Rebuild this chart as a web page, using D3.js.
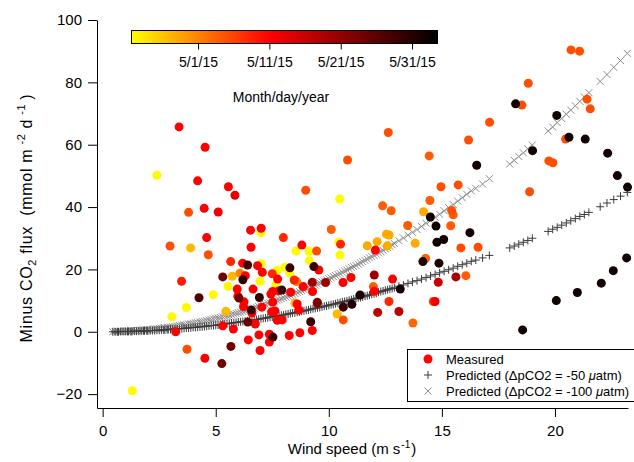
<!DOCTYPE html>
<html>
<head>
<meta charset="utf-8">
<script src="https://cdn.jsdelivr.net/npm/d3@7"></script>
<style>
  body { margin: 0; background: #fff; }
  svg text { font-family: "Liberation Sans", Arial, sans-serif; fill: #000; }
</style>
</head>
<body>
<div id="chart-area"></div>
<script>
// measured flux, one entry per sample
const windSpeed = [
  3.38, 4.53, 2.40, 4.20, 5.56, 5.85, 3.80, 4.49, 5.11, 4.60,
  2.98, 3.89, 4.67, 6.54, 7.01, 7.00, 7.99, 6.56, 3.49, 5.66,
  6.41, 6.19, 6.85, 7.01, 7.06, 7.50, 7.72, 8.28, 8.55, 8.81,
  9.12, 9.46, 9.14, 9.34, 9.56, 8.06, 8.28, 8.47, 8.58, 8.87,
  9.27, 9.28, 9.86, 9.49, 9.20, 9.27, 5.31, 5.73, 6.07, 6.20,
  6.31, 5.54, 5.95, 6.65, 6.96, 7.65, 7.92, 8.31, 4.89, 4.26,
  3.70, 3.06, 5.45, 5.98, 6.03, 6.25, 6.93, 7.44, 7.52, 6.57,
  7.04, 7.47, 7.62, 7.94, 7.72, 6.42, 5.31, 5.78, 3.23, 6.91,
  7.37, 7.53, 6.44, 1.31, 3.73, 4.52, 5.27, 5.67, 6.96, 7.37,
  8.25, 8.72, 6.75, 6.60, 8.60, 8.68, 8.50, 9.49, 10.37, 10.64,
  10.64, 11.02, 12.16, 12.66, 13.10, 7.74, 7.78, 7.52, 6.23, 12.63,
  10.83, 8.98, 10.48, 16.18, 14.44, 16.54, 14.96, 15.72, 14.47, 12.38,
  12.76, 14.19, 15.43, 15.50, 14.49, 13.49, 14.74, 15.39, 10.11, 12.55,
  12.67, 14.78, 15.08, 16.24, 13.82, 11.70, 12.14, 12.59, 15.84, 16.60,
  10.49, 10.45, 10.52, 10.63, 10.98, 12.01, 12.06, 12.82, 11.97, 12.01,
  11.38, 13.16, 14.16, 14.87, 14.28, 14.84, 15.62, 16.06, 14.62, 14.70,
  13.72, 20.71, 21.09, 18.82, 18.26, 18.54, 21.42, 21.56, 17.11, 20.08,
  20.47, 20.62, 21.34, 19.01, 19.73, 19.91, 22.33, 22.76, 23.21, 18.88,
  18.57, 20.06, 20.99, 22.05, 22.58, 23.17
];
const co2Flux = [
  65.7, 59.2, 50.2, 48.4, 46.5, 43.8, 38.3, 39.6, 38.4, 30.2,
  27.5, 26.9, 24.7, 32.6, 33.2, 31.7, 30.2, 27.1, 16.2, 22.5,
  21.4, 22.0, 21.2, 21.8, 19.1, 18.6, 19.7, 20.5, 25.9, 27.8,
  25.8, 25.9, 22.8, 20.9, 19.8, 20.7, 18.8, 16.6, 16.1, 14.5,
  15.9, 12.9, 15.8, 9.5, 3.2, 0.4, 17.6, 17.8, 18.8, 16.7,
  18.0, 14.6, 13.7, 13.7, 16.2, 15.1, 13.4, 12.7, 11.9, 10.9,
  7.8, 4.8, 6.6, 11.4, 10.8, 9.6, 11.0, 12.1, 9.5, 7.0,
  7.9, 6.4, 6.7, 3.8, 3.7, 3.1, 1.9, 0.9, 0.0, -1.0,
  -0.8, -1.7, -2.6, -18.9, -5.6, -8.5, -10.2, -4.7, -6.0, -3.3,
  -1.2, -0.3, 2.5, 6.0, 8.9, 7.0, 9.2, 9.2, 5.7, 3.8,
  7.9, 8.8, 6.2, 9.7, 6.5, 16.9, 13.1, 12.9, 8.1, 63.9,
  55.1, 45.4, 42.6, 61.5, 56.4, 53.4, 46.5, 47.1, 42.1, 40.4,
  38.8, 38.5, 38.9, 37.5, 36.8, 34.1, 33.9, 34.0, 32.8, 31.3,
  31.0, 28.7, 29.6, 31.8, 28.4, 27.6, 28.9, 27.6, 26.9, 27.1,
  24.6, 28.8, 28.1, 15.8, 17.4, 18.2, 26.2, 16.9, 14.5, 13.0,
  11.8, 13.7, 22.5, 22.0, 23.5, 15.9, 17.6, 18.0, 9.7, 9.7,
  2.8, 90.4, 90.0, 79.7, 73.1, 72.7, 74.6, 71.5, 67.2, 69.4,
  61.8, 62.4, 61.8, 58.1, 54.8, 54.2, 57.3, 50.1, 46.4, 44.9,
  0.6, 10.0, 12.6, 15.6, 19.6, 23.7
];
const sampleDate = [
  "5/11/15", "5/11/15", "4/22/15", "5/11/15", "5/11/15", "5/13/15", "5/5/15", "5/11/15", "5/12/15", "5/11/15",
  "5/5/15", "4/27/15", "5/5/15", "5/11/15", "5/11/15", "4/22/15", "5/8/15", "5/11/15", "5/9/15", "5/8/15",
  "5/28/15", "5/11/15", "5/11/15", "4/22/15", "5/11/15", "5/8/15", "4/22/15", "5/29/15", "4/22/15", "5/11/15",
  "4/22/15", "5/5/15", "4/22/15", "5/29/15", "5/11/15", "4/22/15", "4/22/15", "5/8/15", "5/2/15", "5/11/15",
  "5/20/15", "5/11/15", "5/20/15", "5/23/15", "5/29/15", "5/11/15", "5/24/15", "4/27/15", "5/1/15", "5/30/15",
  "5/11/15", "4/22/15", "5/11/15", "5/11/15", "4/22/15", "4/22/15", "5/29/15", "5/11/15", "4/22/15", "5/27/15",
  "4/22/15", "4/22/15", "4/27/15", "5/11/15", "5/24/15", "5/11/15", "5/29/15", "5/11/15", "5/11/15", "5/29/15",
  "5/11/15", "5/11/15", "5/11/15", "5/11/15", "5/11/15", "5/25/15", "5/11/15", "5/11/15", "5/11/15", "5/11/15",
  "5/11/15", "5/29/15", "5/11/15", "4/22/15", "5/5/15", "5/11/15", "5/24/15", "5/24/15", "5/11/15", "5/11/15",
  "5/11/15", "5/11/15", "5/11/15", "5/11/15", "5/11/15", "5/11/15", "4/27/15", "5/20/15", "4/27/15", "5/5/15",
  "5/29/15", "6/1/15", "5/17/15", "5/8/15", "5/17/15", "5/11/15", "5/11/15", "5/11/15", "5/11/15", "5/5/15",
  "5/5/15", "5/5/15", "4/22/15", "5/5/15", "5/4/15", "6/2/15", "5/5/15", "5/5/15", "5/4/15", "5/4/15",
  "5/4/15", "4/28/15", "5/5/15", "5/4/15", "6/2/15", "5/4/15", "6/2/15", "5/4/15", "5/4/15", "4/28/15",
  "4/28/15", "6/2/15", "6/2/15", "6/2/15", "4/28/15", "4/28/15", "4/28/15", "4/28/15", "5/5/15", "5/5/15",
  "4/22/15", "4/22/15", "5/8/15", "5/11/15", "5/11/15", "5/20/15", "5/11/15", "5/11/15", "5/4/15", "5/11/15",
  "6/1/15", "6/1/15", "6/1/15", "6/1/15", "5/4/15", "5/16/15", "5/19/15", "5/4/15", "5/6/15", "5/12/15",
  "5/3/15", "5/5/15", "5/5/15", "5/5/15", "6/2/15", "5/5/15", "5/5/15", "5/5/15", "5/5/15", "6/2/15",
  "5/5/15", "6/2/15", "6/2/15", "6/2/15", "5/5/15", "5/5/15", "6/2/15", "6/2/15", "6/2/15", "5/5/15",
  "6/2/15", "6/2/15", "6/2/15", "6/2/15", "6/2/15", "6/2/15"
];

// predicted flux at the wind speeds of the record
const predWind = [
  0.45, 0.65, 0.8, 1.0, 1.15, 1.3, 1.5, 1.7, 1.85, 2.0,
  2.2, 2.4, 2.6, 2.75, 2.9,
  3.1, 3.3, 3.5, 3.7, 3.9, 4.1, 4.3, 4.5, 4.7, 4.9,
  5.1, 5.3, 5.5, 5.7, 5.9, 6.1, 6.3, 6.5, 6.7, 6.9,
  7.1, 7.3, 7.5, 7.7, 7.9, 8.1, 8.3, 8.5, 8.7, 8.9,
  9.1, 9.3, 9.5, 9.7, 9.9, 10.1, 10.3, 10.5, 10.7, 10.9,
  11.1, 11.3, 11.5, 11.7, 11.9, 12.1, 12.3, 12.5, 12.7, 12.9,
  13.1, 13.3, 13.5, 13.7, 13.9, 14.1, 14.3, 14.5, 14.7, 14.9,
  15.1, 15.3, 15.5, 15.7, 15.9, 16.1, 16.3, 16.5, 16.8, 17.1,
  18.0, 18.2, 18.4, 18.6, 18.8, 19.0,
  19.7, 19.9, 20.1, 20.3, 20.5, 20.7, 20.9, 21.1, 21.3, 21.5,
  22.0, 22.3, 22.6, 22.9, 23.2,
  // second half of the record, low and moderate winds
  0.55, 0.7, 0.9, 1.1, 1.25, 1.4, 1.6, 1.8, 1.95, 2.1,
  2.3, 2.5, 2.7, 2.85, 3.0,
  3.2, 3.4, 3.6, 3.8, 4.0, 4.2, 4.4, 4.6, 4.8, 5.0,
  5.2, 5.4, 5.6, 5.8, 6.0, 6.2, 6.4, 6.6, 6.8, 7.0,
  7.2, 7.4, 7.6, 7.8, 8.0, 8.2, 8.4, 8.6, 8.8, 9.0,
  9.2, 9.4, 9.6, 9.8, 10.0, 10.2, 10.4, 10.6, 10.8, 11.0,
  11.2, 11.4, 11.6, 11.8, 12.0, 12.2, 12.4, 12.6, 12.8
];
const predMinus50 = [
  0.0, 0.0, 0.1, 0.1, 0.1, 0.1, 0.2, 0.2, 0.3, 0.3,
  0.4, 0.5, 0.6, 0.6, 0.7,
  0.8, 0.9, 1.0, 1.2, 1.3, 1.4, 1.6, 1.7, 1.9, 2.0,
  2.2, 2.4, 2.6, 2.8, 3.0, 3.2, 3.4, 3.6, 3.8, 4.0,
  4.3, 4.5, 4.8, 5.0, 5.3, 5.6, 5.9, 6.1, 6.4, 6.7,
  7.0, 7.4, 7.7, 8.0, 8.3, 8.7, 9.0, 9.4, 9.7, 10.1,
  10.5, 10.9, 11.2, 11.6, 12.0, 12.4, 12.9, 13.3, 13.7, 14.1,
  14.6, 15.0, 15.5, 16.0, 16.4, 16.9, 17.4, 17.9, 18.4, 18.9,
  19.4, 19.9, 20.4, 21.0, 21.5, 22.0, 22.6, 23.0, 23.7, 24.5,
  26.9, 27.5, 28.1, 28.7, 29.3, 30.0,
  32.2, 32.9, 33.5, 34.2, 34.9, 35.6, 36.3, 37.0, 37.6, 38.3,
  40.1, 41.3, 42.4, 43.5, 44.7,
  0.0, 0.0, 0.1, 0.1, 0.1, 0.2, 0.2, 0.3, 0.3, 0.4,
  0.4, 0.5, 0.6, 0.7, 0.8,
  0.9, 1.0, 1.1, 1.2, 1.4, 1.5, 1.6, 1.8, 2.0, 2.1,
  2.3, 2.5, 2.7, 2.9, 3.1, 3.3, 3.5, 3.7, 3.9, 4.2,
  4.4, 4.7, 4.9, 5.2, 5.4, 5.7, 6.0, 6.3, 6.6, 6.9,
  7.2, 7.5, 7.8, 8.2, 8.5, 8.8, 9.2, 9.6, 9.9, 10.3,
  10.7, 11.0, 11.4, 11.8, 12.2, 12.7, 13.1, 13.5, 13.9
];
const predMinus100 = [
  0.0, 0.1, 0.1, 0.2, 0.2, 0.3, 0.4, 0.5, 0.6, 0.7,
  0.8, 1.0, 1.1, 1.3, 1.4,
  1.6, 1.9, 2.1, 2.3, 2.6, 2.9, 3.1, 3.4, 3.8, 4.1,
  4.4, 4.8, 5.1, 5.5, 5.9, 6.3, 6.7, 7.2, 7.6, 8.1,
  8.6, 9.1, 9.6, 10.1, 10.6, 11.2, 11.7, 12.3, 12.9, 13.5,
  14.1, 14.7, 15.3, 16.0, 16.7, 17.3, 18.0, 18.7, 19.5, 20.2,
  20.9, 21.7, 22.5, 23.3, 24.1, 24.9, 25.7, 26.6, 27.4, 28.3,
  29.2, 30.1, 31.0, 31.9, 32.8, 33.8, 34.8, 35.7, 36.7, 37.7,
  38.8, 39.8, 40.8, 41.9, 43.0, 44.1, 45.2, 46.0, 47.4, 49.1,
  53.8, 55.0, 56.2, 57.4, 58.7, 59.9,
  64.4, 65.7, 67.1, 68.4, 69.8, 71.1, 72.5, 73.9, 75.3, 76.7,
  80.3, 82.5, 84.8, 87.0, 89.3,
  0.1, 0.1, 0.1, 0.2, 0.3, 0.3, 0.4, 0.6, 0.6, 0.7,
  0.9, 1.1, 1.2, 1.4, 1.5,
  1.7, 2.0, 2.2, 2.5, 2.7, 3.0, 3.3, 3.6, 3.9, 4.3,
  4.6, 5.0, 5.3, 5.7, 6.1, 6.5, 7.0, 7.4, 7.9, 8.3,
  8.8, 9.3, 9.8, 10.3, 10.9, 11.4, 12.0, 12.6, 13.2, 13.8,
  14.4, 15.0, 15.7, 16.3, 17.0, 17.7, 18.4, 19.1, 19.8, 20.6,
  21.3, 22.1, 22.9, 23.7, 24.5, 25.3, 26.1, 27.0, 27.9
];

const xTicks = [0, 5, 10, 15, 20];
const yTicks = [-20, 0, 20, 40, 60, 80, 100];
const dateTicks = ["5/1/15", "5/11/15", "5/21/15", "5/31/15"];

const chart = {
  totalWidth: 634,
  totalHeight: 462,
  left: 97, right: 628, top: 20, bottom: 408,

  parseDate: d3.timeParse("%m/%d/%y"),
  dateStart: new Date(2015, 3, 21, 14, 24),
  dateEnd: new Date(2015, 5, 3, 12),

  svg: undefined,
  x: undefined,
  y: undefined,
  cbScale: undefined,
  hot: d3.scaleLinear().domain([0, 0.45, 1]).range(["#ffff00", "#ff0000", "#000000"]),

  colorFor: function(date) {
    const t = (date - this.dateStart) / (this.dateEnd - this.dateStart);
    return this.hot(Math.max(0, Math.min(1, t)));
  },

  setup: function() {
    this.svg = d3.select("#chart-area").append("svg")
      .attr("width", this.totalWidth)
      .attr("height", this.totalHeight);

    this.x = d3.scaleLinear().domain([-0.25, 23.23]).range([this.left, this.right]);
    this.y = d3.scaleLinear().domain([-24.45, 100]).range([this.bottom, this.top]);
  },

  addAxes: function() {
    const xAxis = this.svg.append("g")
      .attr("transform", "translate(0," + this.bottom + ")")
      .call(d3.axisBottom(this.x).tickValues(xTicks).tickSize(9).tickSizeOuter(0).tickPadding(8));
    xAxis.selectAll("text").attr("font-size", "15px");

    const yAxis = this.svg.append("g")
      .attr("transform", "translate(" + this.left + ",0)")
      .call(d3.axisLeft(this.y).tickValues(yTicks).tickSize(9).tickSizeOuter(0).tickPadding(6));
    yAxis.selectAll("text").attr("font-size", "15px");

    this.svg.selectAll(".domain, .tick line").attr("stroke", "#000");

    // X-label
    const xl = this.svg.append("text")
      .attr("x", 352).attr("y", 454)
      .attr("font-size", "15px")
      .attr("text-anchor", "middle");
    xl.append("tspan").text("Wind speed (m s");
    xl.append("tspan").attr("dy", -6).attr("dx", 1).attr("font-size", "10px").text("-1");
    xl.append("tspan").attr("dy", 6).attr("dx", 1).text(")");

    // Y-label
    const yl = this.svg.append("text")
      .attr("transform", "translate(32,218) rotate(-90)")
      .attr("font-size", "16px")
      .attr("letter-spacing", "0.7px")
      .attr("text-anchor", "middle");
    yl.append("tspan").text("Minus CO");
    yl.append("tspan").attr("dy", 4).attr("font-size", "11px").text("2");
    yl.append("tspan").attr("dy", -4).text(" flux \u00a0(mmol m");
    yl.append("tspan").attr("dy", -7).attr("dx", 4).attr("font-size", "11px").text("-2");
    yl.append("tspan").attr("dy", 7).attr("dx", 5).text("d");
    yl.append("tspan").attr("dy", -7).attr("dx", 4).attr("font-size", "11px").text("-1");
    yl.append("tspan").attr("dy", 7).attr("dx", 4).text(")");
  },

  addPredicted: function() {
    const cross = "M-3.5,-3.5L3.5,3.5M-3.5,3.5L3.5,-3.5";
    const plus = "M-4,0H4M0,-4V4";

    this.svg.append("g").selectAll("path")
      .data(predWind.map((w, i) => ({ w: w, f: predMinus100[i] })))
      .enter().append("path")
        .attr("d", cross)
        .attr("transform", d => "translate(" + this.x(d.w) + "," + this.y(d.f) + ")")
        .attr("stroke", "#8c8c8c")
        .attr("fill", "none");

    this.svg.append("g").selectAll("path")
      .data(predWind.map((w, i) => ({ w: w, f: predMinus50[i] })))
      .enter().append("path")
        .attr("d", plus)
        .attr("transform", d => "translate(" + this.x(d.w) + "," + this.y(d.f) + ")")
        .attr("stroke", "#3a3a3a")
        .attr("fill", "none");
  },

  addMeasured: function() {
    const data = windSpeed.map((w, i) => ({
      w: w, f: co2Flux[i], date: this.parseDate(sampleDate[i])
    })).sort((a, b) => a.date - b.date);

    this.svg.append("g").selectAll("circle")
      .data(data)
      .enter().append("circle")
        .attr("cx", d => this.x(d.w))
        .attr("cy", d => this.y(d.f))
        .attr("r", 4.5)
        .attr("fill", d => this.colorFor(d.date));
  },

  addColorBar: function() {
    const x0 = 131, x1 = 437, yTop = 30, h = 13;
    this.cbScale = d3.scaleTime().domain([this.dateStart, this.dateEnd]).range([x0, x1]);

    const grad = this.svg.append("defs").append("linearGradient")
      .attr("id", "hot-grad");
    d3.range(0, 1.0001, 0.05).forEach(t => {
      grad.append("stop")
        .attr("offset", t)
        .attr("stop-color", this.hot(t));
    });

    this.svg.append("rect")
      .attr("x", x0 + 0.5).attr("y", yTop + 0.5)
      .attr("width", x1 - x0).attr("height", h)
      .attr("fill", "url(#hot-grad)")
      .attr("stroke", "#000");

    const cbAxis = this.svg.append("g")
      .attr("transform", "translate(0," + (yTop + h) + ")")
      .call(d3.axisBottom(this.cbScale)
        .tickValues(dateTicks.map(s => this.parseDate(s)))
        .tickFormat(d3.timeFormat("%-m/%-d/%y"))
        .tickSize(6.5).tickPadding(8));
    cbAxis.select(".domain").remove();
    cbAxis.selectAll("line").attr("stroke", "#000");
    cbAxis.selectAll("text").attr("font-size", "14px");

    this.svg.append("text")
      .attr("x", 281).attr("y", 102)
      .attr("font-size", "14px")
      .attr("text-anchor", "middle")
      .text("Month/day/year");
  },

  addLegend: function() {
    const legend = this.svg.append("g");
    legend.append("rect")
      .attr("x", 407.5).attr("y", 349.5)
      .attr("width", 240).attr("height", 52)
      .attr("fill", "#fff")
      .attr("stroke", "#000");

    const rows = [
      { y: 359, label: "Measured" },
      { y: 375, label: "Predicted (\u0394pCO2 = -50 ", unit: "\u03bc", tail: "atm)" },
      { y: 391, label: "Predicted (\u0394pCO2 = -100 ", unit: "\u03bc", tail: "atm)" }
    ];

    legend.append("circle")
      .attr("cx", 428).attr("cy", rows[0].y).attr("r", 4.5)
      .attr("fill", "#ff0000");
    legend.append("path")
      .attr("d", "M-4,0H4M0,-4V4")
      .attr("transform", "translate(428," + rows[1].y + ")")
      .attr("stroke", "#3a3a3a");
    legend.append("path")
      .attr("d", "M-3.5,-3.5L3.5,3.5M-3.5,3.5L3.5,-3.5")
      .attr("transform", "translate(428," + rows[2].y + ")")
      .attr("stroke", "#8c8c8c");

    rows.forEach(r => {
      const t = legend.append("text")
        .attr("x", 446).attr("y", r.y + 4.5)
        .attr("font-size", "13px");
      t.append("tspan").text(r.label);
      if (r.unit) {
        t.append("tspan").attr("font-style", "italic").text(r.unit);
        t.append("tspan").text(r.tail);
      }
    });
  },

  start: function() {
    this.setup();
    this.addColorBar();
    this.addPredicted();
    this.addMeasured();
    this.addAxes();
    this.addLegend();
  }
};

chart.start();
</script>
</body>
</html>
